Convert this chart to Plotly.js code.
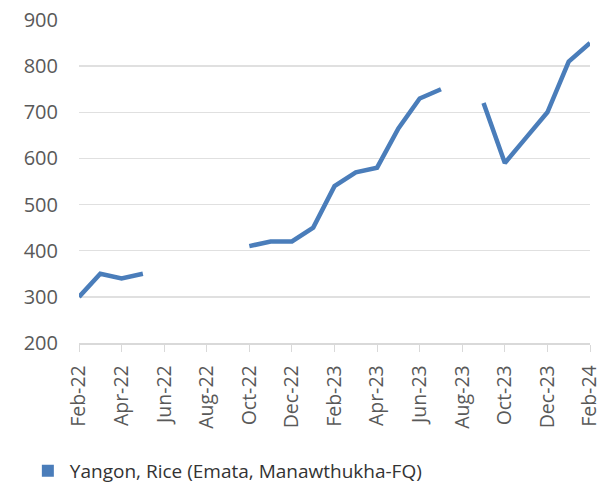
<!DOCTYPE html>
<html>
<head>
<meta charset="utf-8">
<script src="https://cdn.plot.ly/plotly-3.0.1.min.js"></script>
<style>html,body{margin:0;padding:0;background:#fff;}#chart{width:614px;height:483px;}</style>
</head>
<body>
<div id="chart"></div>
<script>
const months = ["Feb-22","Mar-22","Apr-22","May-22","Jun-22","Jul-22","Aug-22","Sep-22","Oct-22","Nov-22","Dec-22",
  "Jan-23","Feb-23","Mar-23","Apr-23","May-23","Jun-23","Jul-23","Aug-23","Sep-23","Oct-23","Nov-23","Dec-23",
  "Jan-24","Feb-24"];
const riceValues = [300,350,340,350,null,null,null,null,410,420,420,
  450,540,570,580,665,730,750,null,720,590,645,700,
  810,850];
const tickLabels = ["Feb-22","Apr-22","Jun-22","Aug-22","Oct-22","Dec-22","Feb-23","Apr-23","Jun-23","Aug-23","Oct-23","Dec-23","Feb-24"];
const seriesName = "Yangon, Rice (Emata, Manawthukha-FQ)";
const yTicks = [200,300,400,500,600,700,800,900];

const color = "#4a7dba";
const fontFam = "'Open Sans', 'Noto Sans', sans-serif";

const traces = [
  {x: months, y: riceValues, type: "scatter", mode: "lines", connectgaps: false,
   line: {color: color, width: 4.5}, showlegend: false, hoverinfo: "skip"},
  {x: [months[0]], y: [null], type: "scatter", mode: "markers", name: seriesName,
   marker: {symbol: "square", size: 12, color: color}, showlegend: true}
];

const layout = {
  width: 614, height: 483,
  margin: {l: 79, r: 24, t: 20, b: 140, autoexpand: false},
  paper_bgcolor: "#fff", plot_bgcolor: "#fff",
  font: {family: fontFam, color: "#595959", size: 19},
  xaxis: {
    type: "category", categoryorder: "array", categoryarray: months, automargin: false,
    range: [0, 24], tickmode: "array", tickvals: tickLabels, ticktext: tickLabels,
    tickangle: -90, ticks: "outside", ticklen: 7, tickcolor: "#d9d9d9", ticklabelstandoff: 6,
    showline: true, linecolor: "#d9d9d9", linewidth: 1.5, showgrid: false, zeroline: false,
    tickfont: {size: 19.5, color: "#595959"}, fixedrange: true
  },
  yaxis: {
    range: [200, 900], tickmode: "array", tickvals: yTicks, automargin: false,
    showgrid: true, gridcolor: "#e0e0e0", gridwidth: 1.5, zeroline: false, showline: false,
    ticks: "", ticklabelstandoff: 20, tickfont: {size: 20, color: "#595959"}, fixedrange: true
  },
  showlegend: true,
  legend: {orientation: "h", x: -0.104, xanchor: "left", y: -0.396, yanchor: "middle",
    font: {size: 19, color: "#333333"}, itemwidth: 34, bgcolor: "rgba(0,0,0,0)"}
};

Plotly.newPlot("chart", traces, layout, {displayModeBar: false, staticPlot: true});
</script>
</body>
</html>
